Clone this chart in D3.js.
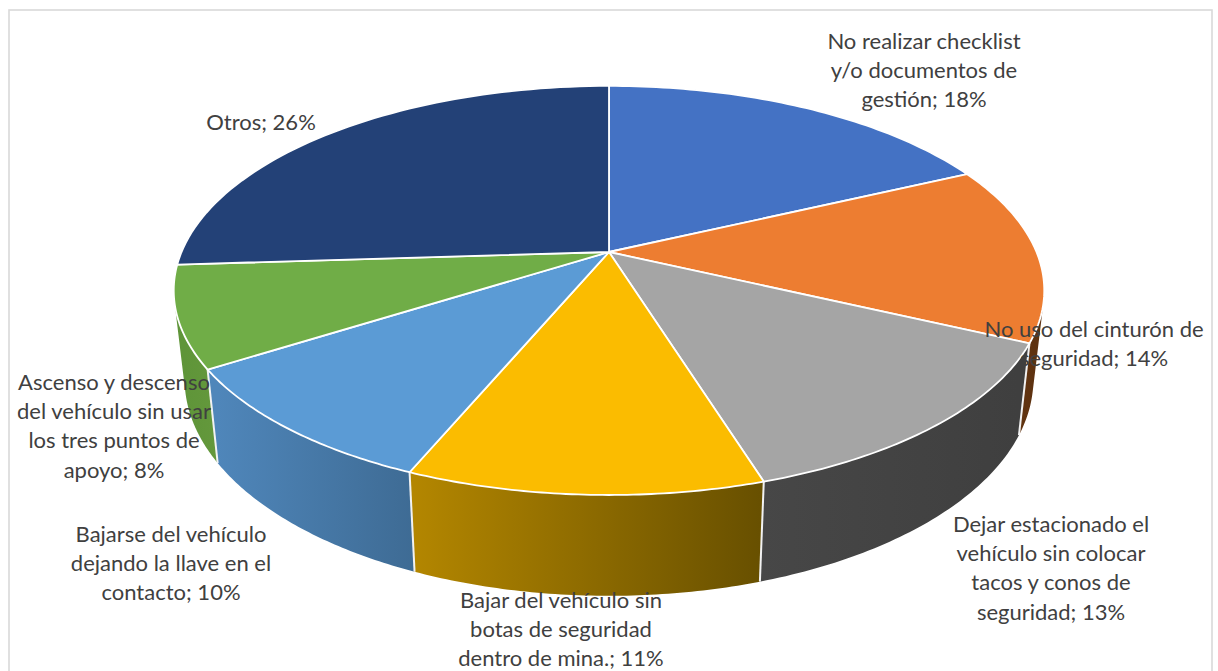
<!DOCTYPE html>
<html><head><meta charset="utf-8">
<style>html,body{margin:0;padding:0;background:#fff}svg{display:block}</style>
<script src="https://cdn.jsdelivr.net/npm/d3@7"></script></head>
<body><svg id="c" width="1218" height="671"></svg>
<script>
const categories = [
  "No realizar checklist\ny/o documentos de\ngestión",
  "No uso del cinturón de\nseguridad",
  "Dejar estacionado el\nvehículo sin colocar\ntacos y conos de\nseguridad",
  "Bajar del vehículo sin\nbotas de seguridad\ndentro de mina.",
  "Bajarse del vehículo\ndejando la llave en el\ncontacto",
  "Ascenso y descenso\ndel vehículo sin usar\nlos tres puntos de\napoyo",
  "Otros"
];
const values = [18, 14, 13.2, 11.1, 9.7, 8, 26];
const topColors = ["#4472c4","#ed7d31","#a5a5a5","#fbbc00","#5b9bd5","#70ad47","#234177"];
const sideFrom  = ["#2a4a80","#6e3c14","#474747","#b38600","#4f86ba","#5f9539","#1a3058"];
const sideTo    = ["#2a4a80","#5e3210","#3f3f3f","#685000","#3e6b94","#64983c","#1a3058"];
const labelAt = [[924,40],[1094,328],[1051,523],[561,599],[171,533],[114,381],[261,121]];

const W = 1218, H = 671, lineH = 29.4;
const svg = d3.select("#c");
svg.append("rect").attr("x",9).attr("y",10).attr("width",1203).attr("height",680)
  .attr("fill","#fff").attr("stroke","#d9d9d9").attr("stroke-width",1.6);

// perspective projection of the pie disc
const cx = 609, cy = 252, a = 427.5, b = 197.3, p = 0.188;
function topPt(t){
  const x = Math.sin(t), y = -Math.cos(t), w = 1 - p*y;
  return [cx + a*x/w, cy + b*y/w];
}
function botPt(t){
  const q = topPt(t);
  return [cx + 0.975*(q[0]-cx), 338.5 + 1.059*(q[1]-cy)];
}
const arcs = d3.pie().sort(null).value(d=>d)(values);
const line = d3.line();
const samples = (s,e)=>d3.range(0,61).map(i=>s+(e-s)*i/60);

const defs = svg.append("defs");
arcs.forEach((d,i)=>{
  const g = defs.append("linearGradient").attr("id","g"+i)
    .attr("gradientUnits","userSpaceOnUse");
  const xs = samples(d.startAngle,d.endAngle).map(t=>botPt(t)[0]);
  g.attr("x1",d3.min(xs)).attr("x2",d3.max(xs)).attr("y1",0).attr("y2",0);
  g.append("stop").attr("offset",0).attr("stop-color",sideFrom[i]);
  g.append("stop").attr("offset",1).attr("stop-color",sideTo[i]);
});

// sides: one swept strip per slice, each step a convex hull so windings never cancel.
// Slices whose wall faces away are painted first, so nearer walls cover them.
const sides = svg.append("g");
const wallMid = d => -Math.cos((d.startAngle+d.endAngle)/2);
d3.range(arcs.length).sort((i,j)=>wallMid(arcs[i])-wallMid(arcs[j])).forEach(i=>{
  const d = arcs[i];
  const ts = samples(d.startAngle,d.endAngle);
  let path = "";
  for(let k=0;k<ts.length-1;k++){
    const hull = d3.polygonHull([topPt(ts[k]),topPt(ts[k+1]),botPt(ts[k+1]),botPt(ts[k])]);
    path += line(hull)+"Z";
  }
  sides.append("path").attr("d",path).attr("fill",`url(#g${i})`);
});
// white dividers on the visible wall (the last slice's edge lies behind the rim)
arcs.forEach(d=>{
  const t = d.startAngle, m = Math.PI*2;
  if(t > m*0.25 && t < m*0.7){
    sides.append("path").attr("d",line([topPt(t),botPt(t)]))
      .attr("stroke","#f2f2f2").attr("stroke-width",2).attr("fill","none");
  }
});

// top faces
const faces = svg.append("g");
arcs.forEach((d,i)=>{
  const pts = [[cx,cy]].concat(samples(d.startAngle,d.endAngle).map(topPt));
  faces.append("path").attr("d",line(pts)+"Z").attr("fill",topColors[i])
    .attr("stroke","#fff").attr("stroke-width",1.8).attr("stroke-linejoin","round");
});

// labels
const labels = svg.append("g").attr("font-family","Lato, 'Open Sans', sans-serif")
  .attr("font-size",22).attr("fill","#404040").attr("text-anchor","middle");
categories.forEach((c,i)=>{
  const rows = c.split("\n");
  rows[rows.length-1] += "; " + Math.round(values[i]) + "%";
  const t = labels.append("text");
  rows.forEach((r,k)=>{
    t.append("tspan").attr("x",labelAt[i][0]).attr("y",labelAt[i][1]+k*lineH)
      .attr("dominant-baseline","central").text(r);
  });
});
</script></body></html>
